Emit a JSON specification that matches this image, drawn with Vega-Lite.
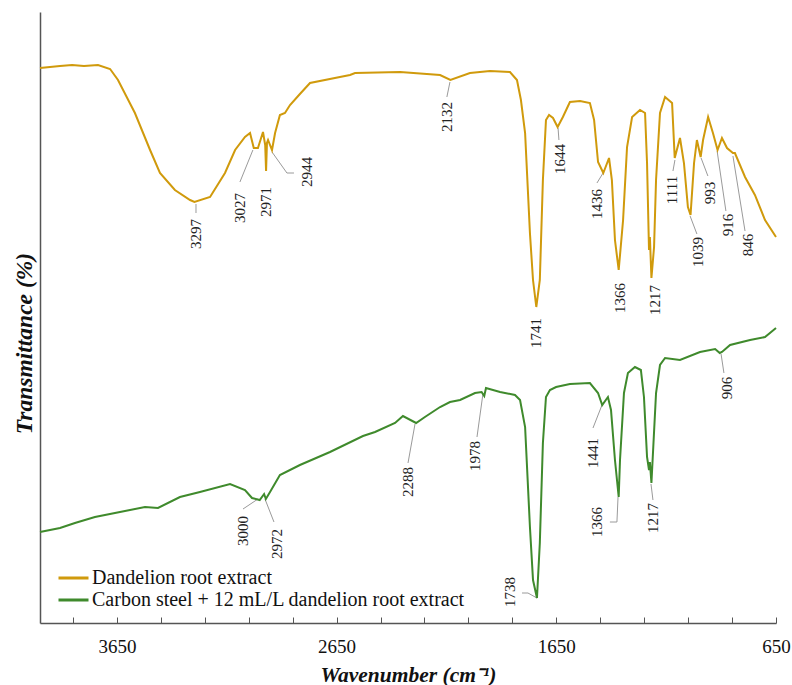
{
  "$schema": "https://vega.github.io/schema/vega-lite/v6.json",
  "width": 736,
  "height": 611,
  "autosize": {"type": "none"},
  "padding": {"left": 40, "top": 12, "right": 16, "bottom": 62},
  "config": {
    "font": "Liberation Serif",
    "view": {"stroke": null},
    "axis": {"grid": false}
  },
  "datasets": {
    "spectra": [
      {"wn": 4000, "t": 555, "series": "Dandelion root extract"},
      {"wn": 3909, "t": 557, "series": "Dandelion root extract"},
      {"wn": 3854, "t": 558, "series": "Dandelion root extract"},
      {"wn": 3800, "t": 557, "series": "Dandelion root extract"},
      {"wn": 3736, "t": 558, "series": "Dandelion root extract"},
      {"wn": 3681, "t": 554, "series": "Dandelion root extract"},
      {"wn": 3645, "t": 543, "series": "Dandelion root extract"},
      {"wn": 3568, "t": 510, "series": "Dandelion root extract"},
      {"wn": 3499, "t": 473, "series": "Dandelion root extract"},
      {"wn": 3454, "t": 450, "series": "Dandelion root extract"},
      {"wn": 3386, "t": 433, "series": "Dandelion root extract"},
      {"wn": 3317, "t": 423, "series": "Dandelion root extract"},
      {"wn": 3297, "t": 421, "series": "Dandelion root extract"},
      {"wn": 3226, "t": 426, "series": "Dandelion root extract"},
      {"wn": 3158, "t": 450, "series": "Dandelion root extract"},
      {"wn": 3112, "t": 473, "series": "Dandelion root extract"},
      {"wn": 3067, "t": 486, "series": "Dandelion root extract"},
      {"wn": 3044, "t": 490, "series": "Dandelion root extract"},
      {"wn": 3027, "t": 475, "series": "Dandelion root extract"},
      {"wn": 3008, "t": 475, "series": "Dandelion root extract"},
      {"wn": 2985, "t": 491, "series": "Dandelion root extract"},
      {"wn": 2975, "t": 478, "series": "Dandelion root extract"},
      {"wn": 2971, "t": 452, "series": "Dandelion root extract"},
      {"wn": 2967, "t": 480, "series": "Dandelion root extract"},
      {"wn": 2962, "t": 483, "series": "Dandelion root extract"},
      {"wn": 2944, "t": 473, "series": "Dandelion root extract"},
      {"wn": 2930, "t": 490, "series": "Dandelion root extract"},
      {"wn": 2908, "t": 508, "series": "Dandelion root extract"},
      {"wn": 2885, "t": 510, "series": "Dandelion root extract"},
      {"wn": 2862, "t": 518, "series": "Dandelion root extract"},
      {"wn": 2817, "t": 529, "series": "Dandelion root extract"},
      {"wn": 2771, "t": 540, "series": "Dandelion root extract"},
      {"wn": 2635, "t": 546, "series": "Dandelion root extract"},
      {"wn": 2589, "t": 548, "series": "Dandelion root extract"},
      {"wn": 2566, "t": 550, "series": "Dandelion root extract"},
      {"wn": 2361, "t": 551, "series": "Dandelion root extract"},
      {"wn": 2179, "t": 548, "series": "Dandelion root extract"},
      {"wn": 2132, "t": 543, "series": "Dandelion root extract"},
      {"wn": 2043, "t": 550, "series": "Dandelion root extract"},
      {"wn": 1952, "t": 552, "series": "Dandelion root extract"},
      {"wn": 1861, "t": 551, "series": "Dandelion root extract"},
      {"wn": 1829, "t": 543, "series": "Dandelion root extract"},
      {"wn": 1811, "t": 523, "series": "Dandelion root extract"},
      {"wn": 1792, "t": 490, "series": "Dandelion root extract"},
      {"wn": 1770, "t": 390, "series": "Dandelion root extract"},
      {"wn": 1756, "t": 343, "series": "Dandelion root extract"},
      {"wn": 1741, "t": 316, "series": "Dandelion root extract"},
      {"wn": 1725, "t": 343, "series": "Dandelion root extract"},
      {"wn": 1711, "t": 443, "series": "Dandelion root extract"},
      {"wn": 1697, "t": 503, "series": "Dandelion root extract"},
      {"wn": 1683, "t": 508, "series": "Dandelion root extract"},
      {"wn": 1665, "t": 505, "series": "Dandelion root extract"},
      {"wn": 1644, "t": 496, "series": "Dandelion root extract"},
      {"wn": 1620, "t": 506, "series": "Dandelion root extract"},
      {"wn": 1588, "t": 521, "series": "Dandelion root extract"},
      {"wn": 1542, "t": 522, "series": "Dandelion root extract"},
      {"wn": 1497, "t": 520, "series": "Dandelion root extract"},
      {"wn": 1478, "t": 503, "series": "Dandelion root extract"},
      {"wn": 1460, "t": 461, "series": "Dandelion root extract"},
      {"wn": 1436, "t": 450, "series": "Dandelion root extract"},
      {"wn": 1410, "t": 465, "series": "Dandelion root extract"},
      {"wn": 1397, "t": 443, "series": "Dandelion root extract"},
      {"wn": 1383, "t": 383, "series": "Dandelion root extract"},
      {"wn": 1366, "t": 353, "series": "Dandelion root extract"},
      {"wn": 1346, "t": 403, "series": "Dandelion root extract"},
      {"wn": 1328, "t": 476, "series": "Dandelion root extract"},
      {"wn": 1305, "t": 506, "series": "Dandelion root extract"},
      {"wn": 1269, "t": 513, "series": "Dandelion root extract"},
      {"wn": 1246, "t": 510, "series": "Dandelion root extract"},
      {"wn": 1237, "t": 460, "series": "Dandelion root extract"},
      {"wn": 1228, "t": 373, "series": "Dandelion root extract"},
      {"wn": 1224, "t": 386, "series": "Dandelion root extract"},
      {"wn": 1217, "t": 345, "series": "Dandelion root extract"},
      {"wn": 1210, "t": 363, "series": "Dandelion root extract"},
      {"wn": 1205, "t": 376, "series": "Dandelion root extract"},
      {"wn": 1196, "t": 443, "series": "Dandelion root extract"},
      {"wn": 1178, "t": 510, "series": "Dandelion root extract"},
      {"wn": 1155, "t": 526, "series": "Dandelion root extract"},
      {"wn": 1123, "t": 520, "series": "Dandelion root extract"},
      {"wn": 1111, "t": 465, "series": "Dandelion root extract"},
      {"wn": 1087, "t": 485, "series": "Dandelion root extract"},
      {"wn": 1069, "t": 460, "series": "Dandelion root extract"},
      {"wn": 1051, "t": 416, "series": "Dandelion root extract"},
      {"wn": 1039, "t": 408, "series": "Dandelion root extract"},
      {"wn": 1023, "t": 460, "series": "Dandelion root extract"},
      {"wn": 1010, "t": 483, "series": "Dandelion root extract"},
      {"wn": 993, "t": 466, "series": "Dandelion root extract"},
      {"wn": 982, "t": 483, "series": "Dandelion root extract"},
      {"wn": 959, "t": 506, "series": "Dandelion root extract"},
      {"wn": 937, "t": 490, "series": "Dandelion root extract"},
      {"wn": 916, "t": 473, "series": "Dandelion root extract"},
      {"wn": 896, "t": 485, "series": "Dandelion root extract"},
      {"wn": 873, "t": 475, "series": "Dandelion root extract"},
      {"wn": 846, "t": 470, "series": "Dandelion root extract"},
      {"wn": 837, "t": 470, "series": "Dandelion root extract"},
      {"wn": 791, "t": 446, "series": "Dandelion root extract"},
      {"wn": 746, "t": 428, "series": "Dandelion root extract"},
      {"wn": 700, "t": 403, "series": "Dandelion root extract"},
      {"wn": 650, "t": 386, "series": "Dandelion root extract"},

      {"wn": 4000, "t": 91, "series": "Carbon steel + 12 mL/L dandelion root extract"},
      {"wn": 3909, "t": 95, "series": "Carbon steel + 12 mL/L dandelion root extract"},
      {"wn": 3841, "t": 100, "series": "Carbon steel + 12 mL/L dandelion root extract"},
      {"wn": 3750, "t": 106, "series": "Carbon steel + 12 mL/L dandelion root extract"},
      {"wn": 3636, "t": 111, "series": "Carbon steel + 12 mL/L dandelion root extract"},
      {"wn": 3522, "t": 116, "series": "Carbon steel + 12 mL/L dandelion root extract"},
      {"wn": 3463, "t": 115, "series": "Carbon steel + 12 mL/L dandelion root extract"},
      {"wn": 3363, "t": 126, "series": "Carbon steel + 12 mL/L dandelion root extract"},
      {"wn": 3272, "t": 131, "series": "Carbon steel + 12 mL/L dandelion root extract"},
      {"wn": 3135, "t": 139, "series": "Carbon steel + 12 mL/L dandelion root extract"},
      {"wn": 3067, "t": 133, "series": "Carbon steel + 12 mL/L dandelion root extract"},
      {"wn": 3035, "t": 125, "series": "Carbon steel + 12 mL/L dandelion root extract"},
      {"wn": 3000, "t": 123, "series": "Carbon steel + 12 mL/L dandelion root extract"},
      {"wn": 2980, "t": 129, "series": "Carbon steel + 12 mL/L dandelion root extract"},
      {"wn": 2972, "t": 124, "series": "Carbon steel + 12 mL/L dandelion root extract"},
      {"wn": 2953, "t": 131, "series": "Carbon steel + 12 mL/L dandelion root extract"},
      {"wn": 2908, "t": 148, "series": "Carbon steel + 12 mL/L dandelion root extract"},
      {"wn": 2817, "t": 158, "series": "Carbon steel + 12 mL/L dandelion root extract"},
      {"wn": 2680, "t": 171, "series": "Carbon steel + 12 mL/L dandelion root extract"},
      {"wn": 2530, "t": 187, "series": "Carbon steel + 12 mL/L dandelion root extract"},
      {"wn": 2475, "t": 191, "series": "Carbon steel + 12 mL/L dandelion root extract"},
      {"wn": 2384, "t": 200, "series": "Carbon steel + 12 mL/L dandelion root extract"},
      {"wn": 2348, "t": 207, "series": "Carbon steel + 12 mL/L dandelion root extract"},
      {"wn": 2288, "t": 200, "series": "Carbon steel + 12 mL/L dandelion root extract"},
      {"wn": 2248, "t": 206, "series": "Carbon steel + 12 mL/L dandelion root extract"},
      {"wn": 2179, "t": 216, "series": "Carbon steel + 12 mL/L dandelion root extract"},
      {"wn": 2134, "t": 221, "series": "Carbon steel + 12 mL/L dandelion root extract"},
      {"wn": 2088, "t": 223, "series": "Carbon steel + 12 mL/L dandelion root extract"},
      {"wn": 2020, "t": 230, "series": "Carbon steel + 12 mL/L dandelion root extract"},
      {"wn": 1990, "t": 231, "series": "Carbon steel + 12 mL/L dandelion root extract"},
      {"wn": 1978, "t": 227, "series": "Carbon steel + 12 mL/L dandelion root extract"},
      {"wn": 1970, "t": 235, "series": "Carbon steel + 12 mL/L dandelion root extract"},
      {"wn": 1906, "t": 231, "series": "Carbon steel + 12 mL/L dandelion root extract"},
      {"wn": 1838, "t": 228, "series": "Carbon steel + 12 mL/L dandelion root extract"},
      {"wn": 1815, "t": 223, "series": "Carbon steel + 12 mL/L dandelion root extract"},
      {"wn": 1792, "t": 196, "series": "Carbon steel + 12 mL/L dandelion root extract"},
      {"wn": 1770, "t": 96, "series": "Carbon steel + 12 mL/L dandelion root extract"},
      {"wn": 1756, "t": 43, "series": "Carbon steel + 12 mL/L dandelion root extract"},
      {"wn": 1738, "t": 25, "series": "Carbon steel + 12 mL/L dandelion root extract"},
      {"wn": 1725, "t": 80, "series": "Carbon steel + 12 mL/L dandelion root extract"},
      {"wn": 1711, "t": 180, "series": "Carbon steel + 12 mL/L dandelion root extract"},
      {"wn": 1697, "t": 226, "series": "Carbon steel + 12 mL/L dandelion root extract"},
      {"wn": 1679, "t": 233, "series": "Carbon steel + 12 mL/L dandelion root extract"},
      {"wn": 1651, "t": 236, "series": "Carbon steel + 12 mL/L dandelion root extract"},
      {"wn": 1588, "t": 239, "series": "Carbon steel + 12 mL/L dandelion root extract"},
      {"wn": 1497, "t": 240, "series": "Carbon steel + 12 mL/L dandelion root extract"},
      {"wn": 1460, "t": 230, "series": "Carbon steel + 12 mL/L dandelion root extract"},
      {"wn": 1441, "t": 218, "series": "Carbon steel + 12 mL/L dandelion root extract"},
      {"wn": 1415, "t": 226, "series": "Carbon steel + 12 mL/L dandelion root extract"},
      {"wn": 1401, "t": 213, "series": "Carbon steel + 12 mL/L dandelion root extract"},
      {"wn": 1383, "t": 163, "series": "Carbon steel + 12 mL/L dandelion root extract"},
      {"wn": 1366, "t": 126, "series": "Carbon steel + 12 mL/L dandelion root extract"},
      {"wn": 1360, "t": 163, "series": "Carbon steel + 12 mL/L dandelion root extract"},
      {"wn": 1342, "t": 230, "series": "Carbon steel + 12 mL/L dandelion root extract"},
      {"wn": 1324, "t": 250, "series": "Carbon steel + 12 mL/L dandelion root extract"},
      {"wn": 1292, "t": 256, "series": "Carbon steel + 12 mL/L dandelion root extract"},
      {"wn": 1265, "t": 253, "series": "Carbon steel + 12 mL/L dandelion root extract"},
      {"wn": 1251, "t": 226, "series": "Carbon steel + 12 mL/L dandelion root extract"},
      {"wn": 1237, "t": 166, "series": "Carbon steel + 12 mL/L dandelion root extract"},
      {"wn": 1228, "t": 153, "series": "Carbon steel + 12 mL/L dandelion root extract"},
      {"wn": 1224, "t": 161, "series": "Carbon steel + 12 mL/L dandelion root extract"},
      {"wn": 1217, "t": 140, "series": "Carbon steel + 12 mL/L dandelion root extract"},
      {"wn": 1210, "t": 170, "series": "Carbon steel + 12 mL/L dandelion root extract"},
      {"wn": 1196, "t": 230, "series": "Carbon steel + 12 mL/L dandelion root extract"},
      {"wn": 1178, "t": 258, "series": "Carbon steel + 12 mL/L dandelion root extract"},
      {"wn": 1155, "t": 265, "series": "Carbon steel + 12 mL/L dandelion root extract"},
      {"wn": 1087, "t": 263, "series": "Carbon steel + 12 mL/L dandelion root extract"},
      {"wn": 996, "t": 271, "series": "Carbon steel + 12 mL/L dandelion root extract"},
      {"wn": 927, "t": 274, "series": "Carbon steel + 12 mL/L dandelion root extract"},
      {"wn": 906, "t": 270, "series": "Carbon steel + 12 mL/L dandelion root extract"},
      {"wn": 896, "t": 271, "series": "Carbon steel + 12 mL/L dandelion root extract"},
      {"wn": 859, "t": 278, "series": "Carbon steel + 12 mL/L dandelion root extract"},
      {"wn": 768, "t": 283, "series": "Carbon steel + 12 mL/L dandelion root extract"},
      {"wn": 700, "t": 286, "series": "Carbon steel + 12 mL/L dandelion root extract"},
      {"wn": 650, "t": 295, "series": "Carbon steel + 12 mL/L dandelion root extract"}
    ],
    "labels": [
      {"wn": 3290, "t": 389, "label": "3297"},
      {"wn": 3090, "t": 415, "label": "3027"},
      {"wn": 2971, "t": 421, "label": "2971"},
      {"wn": 2785, "t": 451, "label": "2944"},
      {"wn": 2148, "t": 506, "label": "2132"},
      {"wn": 1742, "t": 290, "label": "1741"},
      {"wn": 1633, "t": 464, "label": "1644"},
      {"wn": 1465, "t": 419, "label": "1436"},
      {"wn": 1360, "t": 325, "label": "1366"},
      {"wn": 1201, "t": 323, "label": "1217"},
      {"wn": 1123, "t": 433, "label": "1111"},
      {"wn": 1005, "t": 371, "label": "1039"},
      {"wn": 950, "t": 430, "label": "993"},
      {"wn": 868, "t": 398, "label": "916"},
      {"wn": 777, "t": 378, "label": "846"},
      {"wn": 3076, "t": 92, "label": "3000"},
      {"wn": 2921, "t": 79, "label": "2972"},
      {"wn": 2325, "t": 141, "label": "2288"},
      {"wn": 2020, "t": 167, "label": "1978"},
      {"wn": 1861, "t": 31, "label": "1738"},
      {"wn": 1483, "t": 170, "label": "1441"},
      {"wn": 1465, "t": 101, "label": "1366"},
      {"wn": 1210, "t": 105, "label": "1217"},
      {"wn": 873, "t": 235, "label": "906"}
    ],
    "leaders": [
      {"id": "a3297", "o": 1, "wn": 3290, "t": 419},
      {"id": "a3297", "o": 2, "wn": 3290, "t": 410},
      {"id": "a3027", "o": 1, "wn": 3031, "t": 473},
      {"id": "a3027", "o": 2, "wn": 3090, "t": 441},
      {"id": "a2944", "o": 1, "wn": 2944, "t": 471},
      {"id": "a2944", "o": 2, "wn": 2876, "t": 450},
      {"id": "a2944", "o": 3, "wn": 2844, "t": 450},
      {"id": "a2132", "o": 1, "wn": 2134, "t": 541},
      {"id": "a2132", "o": 2, "wn": 2148, "t": 526},
      {"id": "a1644", "o": 1, "wn": 1642, "t": 495},
      {"id": "a1644", "o": 2, "wn": 1638, "t": 483},
      {"id": "a1436", "o": 1, "wn": 1437, "t": 450},
      {"id": "a1436", "o": 2, "wn": 1465, "t": 440},
      {"id": "a1111", "o": 1, "wn": 1110, "t": 463},
      {"id": "a1111", "o": 2, "wn": 1119, "t": 452},
      {"id": "a1039", "o": 1, "wn": 1041, "t": 407},
      {"id": "a1039", "o": 2, "wn": 1010, "t": 389},
      {"id": "a993", "o": 1, "wn": 991, "t": 465},
      {"id": "a993", "o": 2, "wn": 960, "t": 447},
      {"id": "a916", "o": 1, "wn": 918, "t": 472},
      {"id": "a916", "o": 2, "wn": 878, "t": 412},
      {"id": "a846", "o": 1, "wn": 846, "t": 467},
      {"id": "a846", "o": 2, "wn": 791, "t": 392},
      {"id": "b3000", "o": 1, "wn": 3008, "t": 124},
      {"id": "b3000", "o": 2, "wn": 3076, "t": 114},
      {"id": "b2972", "o": 1, "wn": 2976, "t": 124},
      {"id": "b2972", "o": 2, "wn": 2935, "t": 101},
      {"id": "b2288", "o": 1, "wn": 2293, "t": 199},
      {"id": "b2288", "o": 2, "wn": 2325, "t": 160},
      {"id": "b1978", "o": 1, "wn": 1984, "t": 229},
      {"id": "b1978", "o": 2, "wn": 2011, "t": 186},
      {"id": "b1738", "o": 1, "wn": 1738, "t": 25},
      {"id": "b1738", "o": 2, "wn": 1779, "t": 30},
      {"id": "b1738", "o": 3, "wn": 1806, "t": 30},
      {"id": "b1441", "o": 1, "wn": 1442, "t": 218},
      {"id": "b1441", "o": 2, "wn": 1483, "t": 195},
      {"id": "b1366", "o": 1, "wn": 1369, "t": 126},
      {"id": "b1366", "o": 2, "wn": 1374, "t": 101},
      {"id": "b1366", "o": 3, "wn": 1406, "t": 101},
      {"id": "b1217", "o": 1, "wn": 1219, "t": 139},
      {"id": "b1217", "o": 2, "wn": 1210, "t": 123},
      {"id": "b906", "o": 1, "wn": 900, "t": 269},
      {"id": "b906", "o": 2, "wn": 887, "t": 250}
    ]
  },
  "layer": [
    {
      "data": {"name": "leaders"},
      "mark": {"type": "line", "color": "#9a9a9a", "strokeWidth": 1},
      "encoding": {
        "x": {"field": "wn", "type": "quantitative"},
        "y": {"field": "t", "type": "quantitative"},
        "detail": {"field": "id"},
        "order": {"field": "o", "type": "quantitative"}
      }
    },
    {
      "data": {"name": "spectra"},
      "mark": {"type": "line", "strokeWidth": 2},
      "encoding": {
        "x": {
          "field": "wn",
          "type": "quantitative",
          "scale": {"domain": [650, 4000], "reverse": true, "nice": false, "zero": false},
          "axis": {
            "values": [650, 850, 1050, 1250, 1450, 1650, 1850, 2050, 2250, 2450, 2650, 2850, 3050, 3250, 3450, 3650, 3850],
            "labelExpr": "(datum.value - 650) % 1000 == 0 ? datum.value + '' : ''",
            "tickSize": -6,
            "tickColor": "#555555",
            "tickWidth": 1,
            "domainColor": "#555555",
            "domainWidth": 1.5,
            "labelFontSize": 19,
            "labelColor": "#111111",
            "labelPadding": 20,
            "labelFlush": false,
            "labelOverlap": false,
            "title": "Wavenumber (cm⁻¹)",
            "titleFontSize": 21.5,
            "titleFontWeight": "bold",
            "titleFontStyle": "italic",
            "titleColor": "#111111",
            "titleBaseline": "top",
            "titleY": 41
          }
        },
        "y": {
          "field": "t",
          "type": "quantitative",
          "scale": {"domain": [0, 611], "nice": false, "zero": false},
          "axis": {
            "ticks": false,
            "labels": false,
            "domainColor": "#555555",
            "domainWidth": 1.5,
            "title": "Transmittance (%)",
            "titleFontSize": 23.5,
            "titleFontWeight": "bold",
            "titleFontStyle": "italic",
            "titleColor": "#111111",
            "titleBaseline": "middle",
            "titleX": -16,
            "titleY": 331
          }
        },
        "color": {
          "field": "series",
          "type": "nominal",
          "scale": {
            "domain": ["Dandelion root extract", "Carbon steel + 12 mL/L dandelion root extract"],
            "range": ["#D09A0C", "#3F8A2C"]
          },
          "legend": {
            "title": null,
            "orient": "none",
            "legendX": 17,
            "legendY": 556,
            "symbolType": "stroke",
            "symbolSize": 900,
            "symbolStrokeWidth": 3,
            "clipHeight": 20,
            "labelFontSize": 20,
            "labelColor": "#111111",
            "labelOffset": 2,
            "rowPadding": 2,
            "padding": 0,
            "labelLimit": 600
          }
        }
      }
    },
    {
      "data": {"name": "labels"},
      "mark": {"type": "text", "angle": 270, "align": "center", "baseline": "middle", "fontSize": 15, "color": "#222222"},
      "encoding": {
        "x": {"field": "wn", "type": "quantitative"},
        "y": {"field": "t", "type": "quantitative"},
        "text": {"field": "label"}
      }
    }
  ]
}
